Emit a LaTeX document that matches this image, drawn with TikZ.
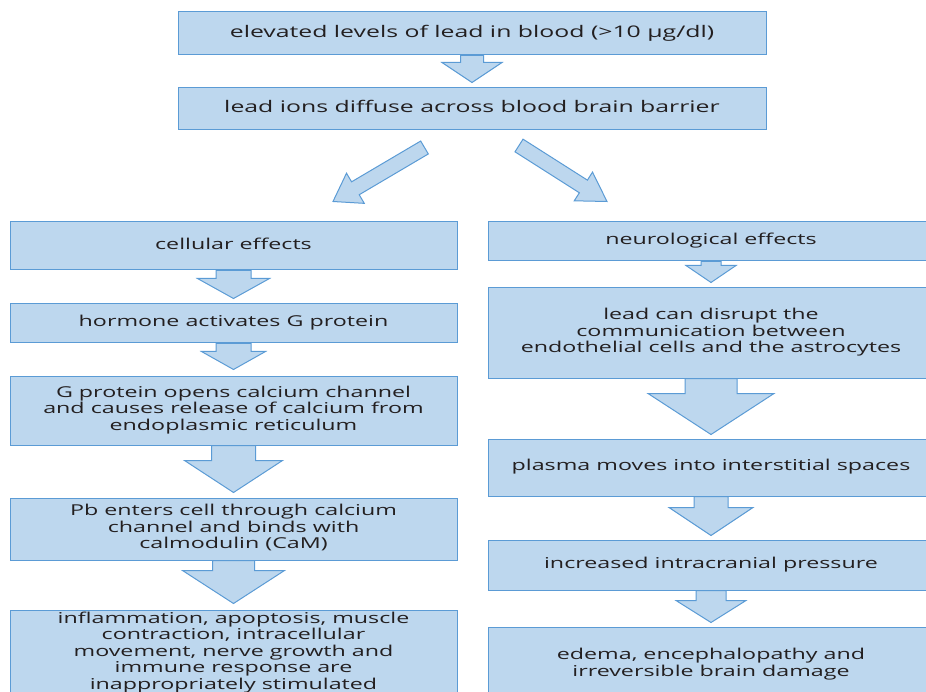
\documentclass[tikz,border=0pt]{standalone}
\usepackage{fontspec}
\setmainfont[FakeStretch=1.55]{Open Sans}
\usepackage{tikz}
\usetikzlibrary{positioning,calc}
\definecolor{boxfill}{HTML}{BDD7EE}
\definecolor{boxline}{HTML}{5B9BD5}
\definecolor{boxtext}{HTML}{231F20}
\tikzset{
  block/.style    = {draw=boxline, fill=boxfill, line width=1pt, rectangle, inner sep=0pt,
                     align=center, text=boxtext, font=\fontsize{15}{16.5}\selectfont,
                     execute at begin node=\strut, execute at end node=\strut},
  wide/.style     = {block, minimum width=588pt, font=\fontsize{16}{17}\selectfont},
  leftcol/.style  = {block, minimum width=447pt},
  rightcol/.style = {block, minimum width=446pt},
  fat/.style      = {draw=boxline, fill=boxfill, line width=1pt, line join=miter}
}
% block arrow: start, tip, shaft half width, head half width, head length
\newcommand{\fatarrow}[5]{%
  \coordinate (fa) at ($(#2)!#5!(#1)$);
  \draw[fat] ($(#1)!#3!90:(#2)$) -- ($(fa)!#3!90:(#2)$) -- ($(fa)!#4!90:(#2)$) -- (#2)
    -- ($(fa)!#4!-90:(#2)$) -- ($(fa)!#3!-90:(#2)$) -- ($(#1)!#3!-90:(#2)$) -- cycle;
}

\begin{document}
\begin{tikzpicture}[x=1pt, y=-1pt]
\useasboundingbox (0,0) rectangle (926,692);

% Top
\node [wide, minimum height=43pt] (blood) at (472,33.5) {elevated levels of lead in blood (>10 µg/dl)};
\node [wide, minimum height=42pt, below=32pt of blood] (bbb) {lead ions diffuse across blood brain barrier};

% Cellular branch
\node [leftcol, minimum height=48pt] (cell) at (233.5,246) {cellular effects};
\node [leftcol, minimum height=39pt, below=33pt of cell] (horm) {hormone activates G protein};
\node [leftcol, minimum height=69pt, below=32pt of horm] (gprot) {G protein opens calcium channel\\
  and causes release of calcium from\\ endoplasmic reticulum};
\node [leftcol, minimum height=62pt, below=52pt of gprot] (pb) {Pb enters cell through calcium\\
  channel and binds with\\ calmodulin (CaM)};
\node [leftcol, minimum height=86pt, below=49pt of pb] (infl) {inflammation, apoptosis, muscle\\
  contraction, intracellular\\ movement, nerve growth and\\ immune response are\\
  inappropriately stimulated};

% Neurological branch
\node [rightcol, minimum height=39pt] (neuro) at (711,241.5) {neurological effects};
\node [rightcol, minimum height=90pt, below=26pt of neuro] (lead) {lead can disrupt the\\
  communication between\\ endothelial cells and the astrocytes};
\node [rightcol, minimum height=57pt, below=60pt of lead] (plasma) {plasma moves into interstitial spaces};
\node [rightcol, minimum height=50pt, below=43pt of plasma] (icp) {increased intracranial pressure};
\node [rightcol, minimum height=76pt, below=36pt of icp] (edema) {edema, encephalopathy and\\
  irreversible brain damage};

% Arrow ends
\coordinate (bbb-in) at ([yshift=5pt]bbb.north);
\coordinate (cell-tail) at ([xshift=-47.5pt,yshift=-17pt]bbb.south);
\coordinate (cell-in) at ([xshift=99.5pt,yshift=20pt]cell.north);
\coordinate (neuro-tail) at ([xshift=47pt,yshift=-15pt]bbb.south);
\coordinate (neuro-in) at ([xshift=-104pt,yshift=20pt]neuro.north);
\coordinate (horm-in) at ([yshift=5pt]horm.north);
\coordinate (gprot-in) at ([yshift=6pt]gprot.north);
\coordinate (pb-in) at ([yshift=5pt]pb.north);
\coordinate (infl-in) at ([yshift=6pt]infl.north);
\coordinate (lead-in) at ([yshift=5pt]lead.north);
\coordinate (plasma-in) at ([yshift=4pt]plasma.north);
\coordinate (icp-in) at ([yshift=4pt]icp.north);
\coordinate (edema-in) at ([yshift=4pt]edema.north);

% Connections
\fatarrow{blood.south}{bbb-in}{11.5pt}{30pt}{20pt}
\fatarrow{cell-tail}{cell-in}{7.5pt}{17.5pt}{26pt}
\fatarrow{neuro-tail}{neuro-in}{7.5pt}{17pt}{28pt}
\fatarrow{cell.south}{horm-in}{17.5pt}{36pt}{20pt}
\fatarrow{horm.south}{gprot-in}{17.5pt}{32pt}{18pt}
\fatarrow{gprot.south}{pb-in}{22pt}{49pt}{32pt}
\fatarrow{pb.south}{infl-in}{21pt}{51pt}{33pt}
\fatarrow{neuro.south}{lead-in}{10pt}{25pt}{17pt}
\fatarrow{lead.south}{plasma-in}{26pt}{63pt}{41pt}
\fatarrow{plasma.south}{icp-in}{17pt}{42pt}{28pt}
\fatarrow{icp.south}{edema-in}{15pt}{35pt}{22pt}

\end{tikzpicture}
\end{document}
